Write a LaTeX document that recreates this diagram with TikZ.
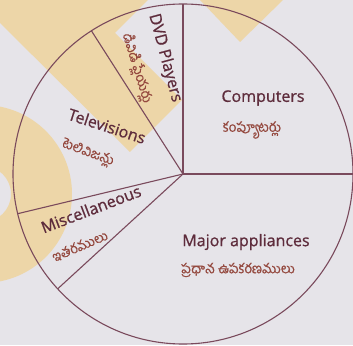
\documentclass[tikz,border=0pt]{standalone}
\usepackage{fontspec}
\setmainfont{Open Sans}
\newfontfamily\engfont[FakeBold=0.9]{Open Sans}
\newfontfamily\telugufont[Script=Telugu,FakeBold=0.6]{Hind Guntur}
\definecolor{paper}{HTML}{E6E4E9}
\definecolor{tanmark}{HTML}{EDD6A8}
\definecolor{pieline}{HTML}{7A4A5C}
\definecolor{labeltext}{HTML}{5E2C3C}
\definecolor{telutext}{HTML}{94483E}
\begin{document}
\begin{tikzpicture}[x=1pt,y=1pt,
        slice/.style = {draw=pieline,line width=1.1pt},
        eng/.style = {text=labeltext,inner sep=1pt,font=\engfont\fontsize{16}{18}\selectfont},
        tel/.style = {text=telutext,inner sep=1pt,font=\telugufont\fontsize{13.5}{15}\selectfont}]
            \useasboundingbox (-183,-171) rectangle (170,174);
            \clip (-183,-171) rectangle (170,174);
            \fill[paper] (-183,-171) rectangle (170,174);

            % faint mark printed under the chart
            \fill[tanmark] (-183,174) -- (-35,174) -- (-68,141) -- (-1,74)
                -- (-53,22) -- (-183,151) -- cycle;
            \fill[tanmark] (17,174) -- (100,174) -- (57,132) -- cycle;
            \fill[tanmark,even odd rule] 
                (-200,-20) circle (89) (-200,-20) circle (28);

            % the pie
            \draw[slice] (0,0) circle (170);
            \draw[slice] (0,0) -- (0:170);
            \draw[slice] (0,0) -- (90:170);
            \draw[slice] (0,0) -- (122.6:170);
            \draw[slice] (0,0) -- (193.5:170);
            \draw[slice] (0,0) -- (222.5:170);

            \node[eng] (comp) at (80,76) {Computers};
            \node[tel] (compT) at (69,44) {కంప్యూటర్లు};
            \node[eng] (major) at (63,-68) {Major appliances};
            \node[tel] (majorT) at (55,-96) {ప్రధాన ఉపకరణములు};
            \node[eng,rotate=21] (misc) at (-92,-35) {Miscellaneous};
            \node[tel,rotate=23] (miscT) at (-103,-72) {ఇతరములు};
            \node[eng,rotate=-18] (tv) at (-76,48) {Televisions};
            \node[tel,rotate=-20] (tvT) at (-95,21) {టెలివిజన్లు};
            \node[eng,rotate=-75] (dvd) at (-18,116) {DVD Players};
            \node[tel,rotate=-73] (dvdT) at (-46,106) {డివిడి ప్లేయర్లు};
\end{tikzpicture}
\end{document}
